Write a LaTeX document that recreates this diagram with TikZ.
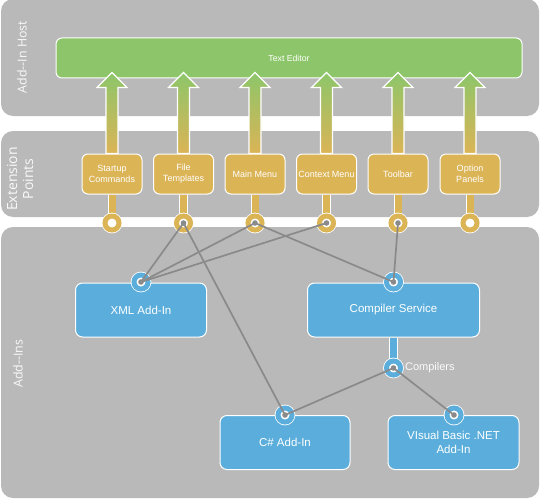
\documentclass[tikz,border=0pt]{standalone}
\usepackage{fontspec}
\setmainfont{Liberation Sans}
\newfontfamily\bandfont{Open Sans}
\usetikzlibrary{positioning}

\definecolor{bandgray}{RGB}{185,185,185}
\definecolor{hostgreen}{RGB}{141,198,106}
\definecolor{epgold}{RGB}{219,180,86}
\definecolor{addblue}{RGB}{91,174,219}
\definecolor{wiregray}{RGB}{138,138,138}

\pgfdeclarelayer{back}
\pgfdeclarelayer{mid}
\pgfsetlayers{back,mid,main}

\begin{document}
\begin{tikzpicture}[x=1pt,y=-1pt,
  band/.style={fill=bandgray,rounded corners=12pt},
  bandlabel/.style={rotate=90,text=white!92!bandgray,align=center,font=\bandfont\fontsize{12.4}{14}\selectfont},
  host/.style={draw=white,line width=1pt,fill=hostgreen,rounded corners=6pt,minimum width=466pt,minimum height=40pt,text=white,font=\fontsize{8.7}{10}\selectfont},
  ext/.style={draw=white,line width=1pt,fill=epgold,rounded corners=6pt,minimum width=60pt,minimum height=40pt,inner sep=1pt,align=center,text=white,font=\fontsize{9}{11}\selectfont},
  addin/.style={draw=white,line width=1pt,fill=addblue,rounded corners=7pt,minimum height=54pt,align=center,text=white,font=\fontsize{11.5}{13.5}\selectfont},
  plug/.style={circle,inner sep=0pt,minimum size=14pt,draw=white,line width=0.8pt,double=epgold,double distance=5pt,fill=white},
  bplug/.style={plug,double=addblue},
  stem/.style={draw=white,line width=0.7pt,double=epgold,double distance=7pt},
  flow/.style={draw=white,line width=1.2pt,top color=hostgreen,bottom color=epgold},
  wire/.style={draw=wiregray,line width=1.7pt,line cap=round}]

\useasboundingbox (0,0) rectangle (540,500);

% bands
\begin{pgfonlayer}{back}
\fill[band] (1,-1) rectangle (539,116);
\fill[band] (1,131) rectangle (539,217);
\fill[band] (1,227) rectangle (539,498);
\node[host] (te) at (289,58) {Text Editor};
\end{pgfonlayer}

\node[bandlabel] (lhost) at (22,57) {Add--In Host};
\node[bandlabel,font=\bandfont\fontsize{14}{16}\selectfont] (lext) at (20,179) {Extension\\Points};
\node[bandlabel] (ladd) at (18,363.5) {Add--Ins};

% extension points
\node[ext] (e1) at (112,174) {Startup\\Commands};
\node[ext] (e2) at (183.5,174) {File\\Templates};
\node[ext] (e3) at (255,174) {Main Menu};
\node[ext] (e4) at (326.5,174) {Context Menu};
\node[ext] (e5) at (398,174) {Toolbar};
\node[ext] (e6) at (470,174) {Option\\Panels};

\node[plug] (p1) at (112,223) {};
\node[plug] (p2) at (183.5,223) {};
\node[plug] (p3) at (255,223) {};
\node[plug] (p4) at (326.5,223) {};
\node[plug] (p5) at (398,223) {};
\node[plug] (p6) at (470,223) {};

% add-ins
\node[addin,minimum width=131pt] (xml) at (141,310) {XML Add-In};
\node[addin,minimum width=172pt] (comp) at (393.5,310) {Compiler Service};
\node[addin,minimum width=130pt] (cs) at (285,442.5) {C\# Add-In};
\node[addin,minimum width=131pt] (vb) at (453.5,442.5) {VIsual Basic .NET\\Add-In};

\node[bplug] (xmlp) at (141,282) {};
\node[bplug] (compp) at (393.5,282) {};
\node[bplug] (csp) at (285,415) {};
\node[bplug] (vbp) at (454,415) {};
\node[bplug] (cmpl) at (393.5,368) {};
\node[right=4pt of cmpl,inner sep=0pt,text=white!95!bandgray,font=\fontsize{11}{13}\selectfont] (lcmpl) {Compilers};

\begin{pgfonlayer}{mid}
\path[flow] (e1.north) ++(-6,0) -- ++(0,-66) -- ++(-9,0) -- ++(15,-15) -- ++(15,15) -- ++(-9,0) -- ++(0,66) -- cycle;
\path[flow] (e2.north) ++(-6,0) -- ++(0,-66) -- ++(-9,0) -- ++(15,-15) -- ++(15,15) -- ++(-9,0) -- ++(0,66) -- cycle;
\path[flow] (e3.north) ++(-6,0) -- ++(0,-66) -- ++(-9,0) -- ++(15,-15) -- ++(15,15) -- ++(-9,0) -- ++(0,66) -- cycle;
\path[flow] (e4.north) ++(-6,0) -- ++(0,-66) -- ++(-9,0) -- ++(15,-15) -- ++(15,15) -- ++(-9,0) -- ++(0,66) -- cycle;
\path[flow] (e5.north) ++(-6,0) -- ++(0,-66) -- ++(-9,0) -- ++(15,-15) -- ++(15,15) -- ++(-9,0) -- ++(0,66) -- cycle;
\path[flow] (e6.north) ++(-6,0) -- ++(0,-66) -- ++(-9,0) -- ++(15,-15) -- ++(15,15) -- ++(-9,0) -- ++(0,66) -- cycle;

\draw[stem] (e1.south) -- (p1.center);
\draw[stem] (e2.south) -- (p2.center);
\draw[stem] (e3.south) -- (p3.center);
\draw[stem] (e4.south) -- (p4.center);
\draw[stem] (e5.south) -- (p5.center);
\draw[stem] (e6.south) -- (p6.center);
\draw[stem,double=addblue] (comp.south) -- (cmpl.center);
\end{pgfonlayer}

% wires
\draw[wire] (p2.center) -- (xmlp.center);
\draw[wire] (p2.center) -- (csp.center);
\draw[wire] (p3.center) -- (xmlp.center);
\draw[wire] (p3.center) -- (compp.center);
\draw[wire] (p4.center) -- (xmlp.center);
\draw[wire] (p5.center) -- (compp.center);
\draw[wire] (cmpl.center) -- (csp.center);
\draw[wire] (cmpl.center) -- (vbp.center);

\fill[wiregray] (p2.center) circle[radius=2.8pt] (p3.center) circle[radius=2.8pt]
  (p4.center) circle[radius=2.8pt] (p5.center) circle[radius=2.8pt]
  (xmlp.center) circle[radius=2.8pt] (compp.center) circle[radius=2.8pt]
  (csp.center) circle[radius=2.8pt] (vbp.center) circle[radius=2.8pt]
  (cmpl.center) circle[radius=2.8pt];
\end{tikzpicture}
\end{document}
